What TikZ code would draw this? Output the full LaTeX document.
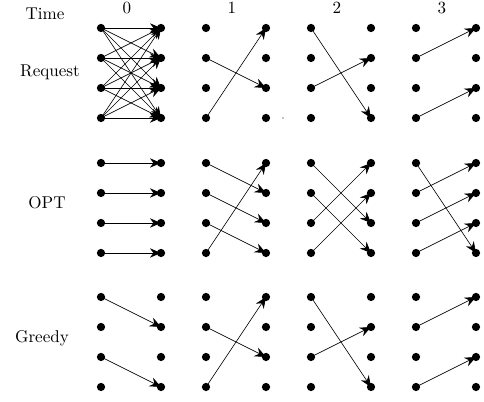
\documentclass[tikz,border=0pt]{standalone}
\usetikzlibrary{arrows.meta}
\begin{document}
\begin{tikzpicture}[x=0.0206cm, y=-0.0206cm]
    \tikzset{
        dot/.style={circle, fill=black, inner sep=0pt, minimum size=0.17cm},
        arrow/.style={thin, -{Stealth[length=6.5pt, width=5.5pt]}}
    }
    \useasboundingbox (0,0) rectangle (484,402);
    % labels
    \node (time) at (45,14) {Time};
    \node (request) at (50,72) {Request};
    \node (opt) at (47,203) {OPT};
    \node (greedy) at (42,338) {Greedy};
    \foreach \t in {0,...,3}
        \node (step\t) at ({127+105*\t},8) {\t};
    % dots
    \foreach \g/\y in {req/28, opt/163, gr/297}
        \foreach \t in {0,...,3}
            \foreach \i in {1,...,4} {
                \node[dot] (\g\t a\i) at ({101+105*\t},{\y+30*(\i-1)}) {};
                \node[dot] (\g\t b\i) at ({161+105*\t},{\y+30*(\i-1)}) {};
            }
    \fill (283,118) circle (0.7);
    % requests
    \foreach \i in {1,...,4}
        \foreach \j in {1,...,4}
            \draw[arrow] (req0a\i.center) -- (req0b\j.center);
    \foreach \g/\t/\i/\j in {req/1/4/1, req/1/2/3, req/2/1/4, req/2/3/2,
                             req/3/2/1, req/3/4/3,
                             opt/0/1/1, opt/0/2/2, opt/0/3/3, opt/0/4/4,
                             opt/1/1/2, opt/1/2/3, opt/1/3/4, opt/1/4/1,
                             opt/2/1/3, opt/2/2/4, opt/2/3/1, opt/2/4/2,
                             opt/3/1/4, opt/3/2/1, opt/3/3/2, opt/3/4/3,
                             gr/0/1/2, gr/0/3/4, gr/1/4/1, gr/1/2/3,
                             gr/2/1/4, gr/2/3/2, gr/3/2/1, gr/3/4/3}
        \draw[arrow] (\g\t a\i.center) -- (\g\t b\j.center);
\end{tikzpicture}
\end{document}
